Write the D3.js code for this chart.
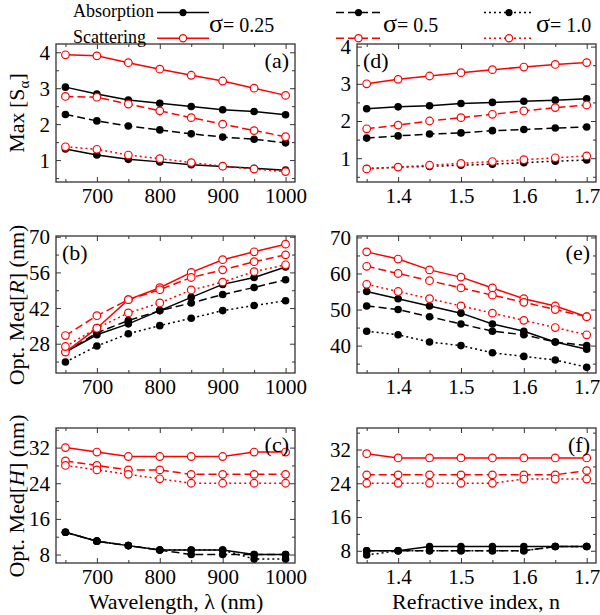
<!DOCTYPE html>
<html><head><meta charset="utf-8">
<script src="https://cdn.jsdelivr.net/npm/d3@7"></script>
<style>body{margin:0;background:#fff}svg{display:block}svg text{font-family:"Liberation Serif","DejaVu Serif","Times New Roman",Times,serif !important}</style>
</head><body><svg id="c" width="600" height="615"></svg>
<script>
// ---------- data ----------
const wavelength = [650,700,750,800,850,900,950,1000];
const refIndex = [1.35,1.40,1.45,1.50,1.55,1.60,1.65,1.70];
const sigmas = ["0.25","0.5","1.0"];

// Panel (a): Max[S] vs wavelength
const aAbs025 = [3.03,2.84,2.67,2.58,2.49,2.40,2.35,2.26];
const aAbs05  = [2.27,2.09,1.95,1.84,1.73,1.64,1.58,1.48];
const aAbs10  = [1.31,1.14,1.02,0.95,0.87,0.82,0.77,0.72];
const aSca025 = [3.93,3.90,3.71,3.53,3.36,3.20,3.00,2.80];
const aSca05  = [2.77,2.75,2.56,2.37,2.18,2.00,1.82,1.65];
const aSca10  = [1.37,1.30,1.14,1.04,0.93,0.83,0.75,0.68];
// Panel (b): Opt. Med[R] vs wavelength
const bAbs025 = [24.7,31.5,35.8,41.0,46.2,51.3,54.0,58.1];
const bAbs05  = [24.7,32.3,37.1,41.0,44.0,47.3,50.1,53.1];
const bAbs10  = [20.8,27.1,31.9,35.1,38.0,41.0,43.0,44.9];
const bSca025 = [24.7,34.1,45.3,50.0,56.0,61.0,64.1,67.1];
const bSca05  = [31.2,39.0,45.3,49.2,54.0,57.0,60.2,62.9];
const bSca10  = [26.9,34.1,40.1,44.0,49.1,52.2,56.3,59.0];
// Panel (c): Opt. Med[H] vs wavelength
const cAbs025 = [13,11,10,9,9,9,8,8];
const cAbs05  = [13,11,10,9,8,8,8,8];
const cAbs10  = [13,11,10,9,9,9,7,7];
const cSca025 = [32,31,30,30,30,30,31,31];
const cSca05  = [29,28,27,27,26,26,26,26];
const cSca10  = [28,27,26,25,24,24,24,24];
// Panel (d): Max[S] vs refractive index
const dAbs025 = [2.33,2.38,2.41,2.47,2.50,2.53,2.56,2.60];
const dAbs05  = [1.54,1.60,1.65,1.68,1.74,1.77,1.81,1.84];
const dAbs10  = [0.72,0.76,0.78,0.81,0.84,0.88,0.92,0.95];
const dSca025 = [3.00,3.12,3.21,3.30,3.38,3.45,3.52,3.57];
const dSca05  = [1.79,1.89,2.00,2.09,2.18,2.27,2.36,2.43];
const dSca10  = [0.71,0.76,0.81,0.86,0.91,0.96,1.01,1.06];
// Panel (e): Opt. Med[R] vs refractive index
const eAbs025 = [55,53,51,49,46,44,41,39];
const eAbs05  = [51,50,48,46,44,43,41,40];
const eAbs10  = [44,43,41,40,38,37,36,34];
const eSca025 = [66,64,61,59,56,53,51,48];
const eSca05  = [62,60,58,56,54,52,50,48];
const eSca10  = [57,55,53,51,49,47,45,43];
// Panel (f): Opt. Med[H] vs refractive index
const fAbs025 = [8,8,9,9,9,9,9,9];
const fAbs05  = [8,8,8,8,8,8,9,9];
const fAbs10  = [7,8,8,8,8,8,9,9];
const fSca025 = [31,30,30,30,30,30,30,30];
const fSca05  = [26,26,26,26,26,26,26,27];
const fSca10  = [24,24,24,24,24,25,25,25];

// tick values
const wlMajor = [700,800,900,1000], wlMinor = [650,750,850,950];
const nMajor = [1.4,1.5,1.6,1.7], nMinor = [1.35,1.45,1.55,1.65];
const sMajor = [1,2,3,4], sMinor = [0.5,1.5,2.5,3.5];
const rMajorL = [28,42,56,70], rMinorL = [21,35,49,63];
const rMajorR = [40,50,60,70], rMinorR = [35,45,55,65];
const hMajor = [8,16,24,32], hMinor = [12,20,28,36];

// ---------- drawing ----------
const SERIF = "'Liberation Serif','DejaVu Serif',serif";
const svg = d3.select("#c").attr("font-family",SERIF);
const dashFor = {"0.25":null,"0.5":"8,4","1.0":"2,3"};

const cols = [{x0:56,x1:295},{x0:357,x1:596}];
const rows = [{y0:44,y1:182},{y0:236,y1:373},{y0:428,y1:563}];

const panels = [
 {lab:"(a)",c:0,r:0,xd:[635,1015],yd:[0.39,4.23],xM:wlMajor,xm:wlMinor,yM:sMajor,ym:sMinor,xs:wavelength,
  abs:[aAbs025,aAbs05,aAbs10],sca:[aSca025,aSca05,aSca10],absDash:[null,"8,4",null],labPos:"tr"},
 {lab:"(b)",c:0,r:1,xd:[635,1015],yd:[16.5,70.3],xM:wlMajor,xm:wlMinor,yM:rMajorL,ym:rMinorL,xs:wavelength,
  abs:[bAbs025,bAbs05,bAbs10],sca:[bSca025,bSca05,bSca10],labPos:"tl"},
 {lab:"(c)",c:0,r:2,xd:[635,1015],yd:[6.1,36.4],xM:wlMajor,xm:wlMinor,yM:hMajor,ym:hMinor,xs:wavelength,
  abs:[cAbs025,cAbs05,cAbs10],sca:[cSca025,cSca05,cSca10],labPos:"tr"},
 {lab:"(d)",c:1,r:0,xd:[1.3346,1.7148],yd:[0.36,4.07],xM:nMajor,xm:nMinor,yM:sMajor,ym:sMinor,xs:refIndex,
  abs:[dAbs025,dAbs05,dAbs10],sca:[dSca025,dSca05,dSca10],labPos:"tl"},
 {lab:"(e)",c:1,r:1,xd:[1.3346,1.7148],yd:[32.4,70.4],xM:nMajor,xm:nMinor,yM:rMajorR,ym:rMinorR,xs:refIndex,
  abs:[eAbs025,eAbs05,eAbs10],sca:[eSca025,eSca05,eSca10],labPos:"tr"},
 {lab:"(f)",c:1,r:2,xd:[1.3346,1.7148],yd:[5.1,37.1],xM:nMajor,xm:nMinor,yM:hMajor,ym:hMinor,xs:refIndex,
  abs:[fAbs025,fAbs05,fAbs10],sca:[fSca025,fSca05,fSca10],labPos:"tr"}
];

const FS = 21;
panels.forEach(p=>{
  const {x0,x1} = cols[p.c], {y0,y1} = rows[p.r];
  const x = d3.scaleLinear().domain(p.xd).range([x0,x1]);
  const y = d3.scaleLinear().domain(p.yd).range([y1,y0]);
  const g = svg.append("g");
  const xfmt = p.c===0 ? d3.format("d") : d3.format(".1f");
  const yfmt = d3.format("d");
  const mk = (ax, vals, size, fmt) => ax.tickValues(vals).tickSizeInner(-size).tickSizeOuter(0).tickPadding(6).tickFormat(fmt);
  const style = sel => { sel.attr("font-family",SERIF).attr("font-size",FS);
    sel.select(".domain").remove(); sel.selectAll("line").attr("stroke","#333").attr("stroke-width",1);
    sel.selectAll("text").attr("fill","#000"); };
  g.append("g").attr("transform",`translate(0,${y1})`).call(mk(d3.axisBottom(x),p.xM,5,xfmt)).call(style).selectAll("text").attr("dy","0.72em");
  g.append("g").attr("transform",`translate(0,${y1})`).call(mk(d3.axisBottom(x),p.xm,3,"")).call(style);
  g.append("g").attr("transform",`translate(0,${y0})`).call(mk(d3.axisTop(x),p.xM,5,"")).call(style);
  g.append("g").attr("transform",`translate(0,${y0})`).call(mk(d3.axisTop(x),p.xm,3,"")).call(style);
  g.append("g").attr("transform",`translate(${x0},0)`).call(mk(d3.axisLeft(y),p.yM,5,yfmt)).call(style).selectAll("text").attr("dy","0.33em");
  g.append("g").attr("transform",`translate(${x0},0)`).call(mk(d3.axisLeft(y),p.ym.filter(v=>v>p.yd[0]&&v<p.yd[1]),3,"")).call(style);
  g.append("g").attr("transform",`translate(${x1},0)`).call(mk(d3.axisRight(y),p.yM.filter(v=>v<p.yd[1]),5,"")).call(style);
  g.append("g").attr("transform",`translate(${x1},0)`).call(mk(d3.axisRight(y),p.ym.filter(v=>v>p.yd[0]&&v<p.yd[1]),3,"")).call(style);
  g.append("rect").attr("x",x0).attr("y",y0).attr("width",x1-x0).attr("height",y1-y0)
    .attr("fill","none").attr("stroke","#333").attr("stroke-width",1.3);

  const line = d3.line().x((d,i)=>x(p.xs[i])).y(d=>y(d));
  const drawSeries = (vals, color, dash, filled) => {
    g.append("path").datum(vals).attr("d",line).attr("fill","none").attr("stroke",color)
      .attr("stroke-width",1.5).attr("stroke-dasharray",dash);
    g.selectAll(null).data(vals).enter().append("circle")
      .attr("cx",(d,i)=>x(p.xs[i])).attr("cy",d=>y(d)).attr("r",3.8)
      .attr("fill",filled?color:"#fff").attr("stroke",color).attr("stroke-width",filled?0:1.2);
  };
  sigmas.forEach((s,k)=>{
    const ad = p.absDash ? p.absDash[k] : dashFor[s];
    drawSeries(p.abs[k],"#000",ad,true);
  });
  sigmas.forEach((s,k)=> drawSeries(p.sca[k],"#ff0000",dashFor[s],false));

  const lt = g.append("text").attr("font-size",22).text(p.lab);
  if(p.labPos==="tr") lt.attr("x",x1-6).attr("y",y0+24).attr("text-anchor","end");
  else lt.attr("x",x0+6).attr("y",y0+24).attr("text-anchor","start");
});

// y-axis titles
const yt = (cy, build) => { const t = svg.append("text").attr("transform",`translate(24,${cy}) rotate(-90)`)
  .attr("text-anchor","middle").attr("font-size",22); build(t); };
yt(113, t=>{ t.append("tspan").text("Max\u2009[S"); t.append("tspan").attr("font-size",15).attr("dy",5).text("\u03B1");
  t.append("tspan").attr("dy",-5).text("]"); });
yt(305, t=>{ t.append("tspan").text("Opt. Med["); t.append("tspan").attr("font-style","italic").text("R");
  t.append("tspan").text("] (nm)"); });
yt(496, t=>{ t.append("tspan").text("Opt. Med["); t.append("tspan").attr("font-style","italic").text("H");
  t.append("tspan").text("] (nm)"); });

// x-axis titles
svg.append("text").attr("x",176).attr("y",609).attr("text-anchor","middle").attr("font-size",22).text("Wavelength, \u03BB (nm)");
svg.append("text").attr("x",476).attr("y",609).attr("text-anchor","middle").attr("font-size",22).text("Refractive index, n");

// legend
const lg = svg.append("g");
lg.append("text").attr("x",73).attr("y",17).attr("font-size",18).text("Absorption");
lg.append("text").attr("x",73).attr("y",43).attr("font-size",18).text("Scattering");
const legX = [[157,209],[336,381],[484,534]];
const legT = [209,383,536];
sigmas.forEach((s,k)=>{
  const [a,b] = legX[k], m=(a+b)/2;
  [[12.6,"#000",true],[38.3,"#ff0000",false]].forEach(([yy,col,filled])=>{
    lg.append("line").attr("x1",a).attr("x2",b).attr("y1",yy).attr("y2",yy).attr("stroke",col)
      .attr("stroke-width",1.5).attr("stroke-dasharray",dashFor[s]);
    lg.append("circle").attr("cx",m).attr("cy",yy).attr("r",3.6).attr("fill",filled?col:"#fff")
      .attr("stroke",col).attr("stroke-width",filled?0:1.2);
  });
  const t = lg.append("text").attr("x",legT[k]).attr("y",32);
  t.append("tspan").attr("font-size",26).text("\u03C3");
  t.append("tspan").attr("font-size",20).text("= "+s);
});
</script></body></html>
